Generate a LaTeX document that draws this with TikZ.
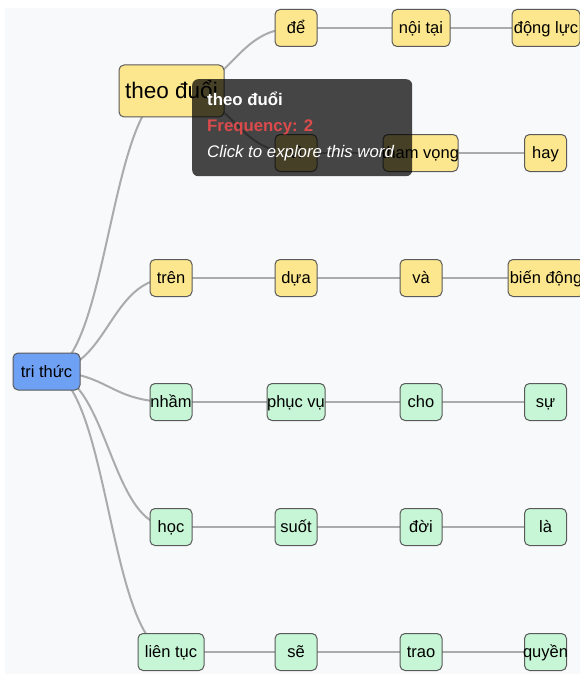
\documentclass[tikz,border=0pt]{standalone}
\usepackage{fontspec}
\setmainfont{Liberation Sans}
\pgfdeclarelayer{bg}
\pgfsetlayers{bg,main}
\definecolor{pagebg}{HTML}{F8F9FB}
\definecolor{ybfill}{HTML}{FCE68E}
\definecolor{gnfill}{HTML}{C6F6D5}
\definecolor{rootfill}{HTML}{6EA0F3}
\definecolor{bordercol}{HTML}{5A5A5A}
\definecolor{edgecol}{HTML}{ABABAB}
\definecolor{freqred}{HTML}{DB4B4B}
\newcommand\mb[1]{\makebox[0pt]{#1}}
\tikzset{
  wbox/.style={draw=bordercol, line width=1pt, rounded corners=5pt, inner sep=0pt,
    minimum width=42pt, minimum height=37pt, font=\fontsize{16.5}{18}\selectfont,
    text height=14.9pt, text depth=3.5pt, text=black},
  ybox/.style={wbox, fill=ybfill},
  gbox/.style={wbox, fill=gnfill},
  link/.style={draw=edgecol, line width=2pt},
}
\begin{document}
\begin{tikzpicture}[x=1pt,y=-1pt]
\useasboundingbox (0,0) rectangle (580,674);
\clip (0,0) rectangle (580,674);
% nodes
\node[wbox, fill=rootfill, minimum width=67pt] (r) at (46.5,371.5) {\mb{tri thức}};
\node[ybox, minimum width=105pt, minimum height=52pt, font=\fontsize{22.5}{24}\selectfont, text height=20.4pt, text depth=4.8pt] (a1) at (171.5,91) {\mb{theo đuổi}};
\node[ybox] (a2) at (296,28) {\mb{để}};
\node[ybox, minimum width=58pt] (a3) at (421,28) {\mb{nội tại}};
\node[ybox, minimum width=68pt] (a4) at (546,28) {\mb{động lực}};
\node[ybox] (b2) at (296,153) {\mb{vì}};
\node[ybox, minimum width=75pt] (b3) at (420.5,153) {\mb{tham vọng}};
\node[ybox] (b4) at (545.5,153) {\mb{hay}};
\node[ybox] (c1) at (171,278) {\mb{trên}};
\node[ybox] (c2) at (296,278) {\mb{dựa}};
\node[ybox] (c3) at (421,278) {\mb{và}};
\node[ybox, minimum width=76pt] (c4) at (546,278) {\mb{biến động}};
\node[gbox] (d1) at (171,402) {\mb{nhầm}};
\node[gbox, minimum width=58pt] (d2) at (296,402) {\mb{phục vụ}};
\node[gbox] (d3) at (421,402) {\mb{cho}};
\node[gbox] (d4) at (545.5,402) {\mb{sự}};
\node[gbox] (e1) at (171,527) {\mb{học}};
\node[gbox] (e2) at (296,527) {\mb{suốt}};
\node[gbox] (e3) at (421,527) {\mb{đời}};
\node[gbox] (e4) at (545.5,527) {\mb{là}};
\node[gbox, minimum width=66pt] (f1) at (171,652) {\mb{liên tục}};
\node[gbox] (f2) at (296,652) {\mb{sẽ}};
\node[gbox] (f3) at (421,652) {\mb{trao}};
\node[gbox] (f4) at (545.5,652) {\mb{quyền}};
% background and links
\begin{pgfonlayer}{bg}
\fill[pagebg] (5,8) rectangle (580,674);
\foreach \s/\t in {r/a1,r/c1,r/d1,r/e1,r/f1,a1/a2,a1/b2,a2/a3,a3/a4,b2/b3,b3/b4,c1/c2,c2/c3,c3/c4,d1/d2,d2/d3,d3/d4,e1/e2,e2/e3,e3/e4,f1/f2,f2/f3,f3/f4}{
  \draw[link] (\s.center) .. controls ([xshift=62.5pt]\s.center) and ([xshift=-62.5pt]\t.center) .. (\t.center);
}
\end{pgfonlayer}
% tooltip
\node[fill=black, fill opacity=0.72, rounded corners=6pt, inner sep=0pt, minimum width=220pt, minimum height=97pt, anchor=north west] (tip) at (192,79) {};
\node[anchor=base west, inner sep=0pt, text=white, font=\bfseries\fontsize{16.8}{18}\selectfont] (t1) at (207,106) {theo đuổi};
\node[anchor=base west, inner sep=0pt, text=freqred, font=\bfseries\fontsize{16.8}{18}\selectfont] (t2) at (207,131.5) {Frequency: 2};
\node[anchor=base west, inner sep=0pt, text=white, font=\itshape\fontsize{16.8}{18}\selectfont] (t3) at (207,157.5) {Click to explore this word};
\end{tikzpicture}
\end{document}
